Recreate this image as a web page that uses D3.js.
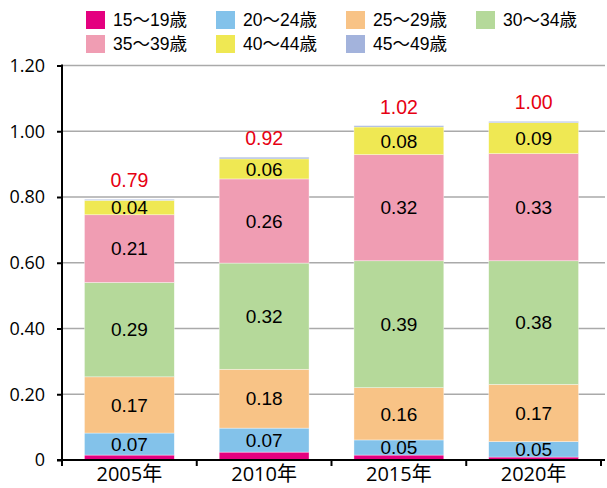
<!DOCTYPE html>
<html>
<head>
<meta charset="utf-8">
<script src="https://cdn.jsdelivr.net/npm/d3@7"></script>
<style>
  html, body { margin: 0; padding: 0; background: #fff; }
  svg { display: block; }
</style>
</head>
<body>
<svg id="chart" width="607" height="488"></svg>
<script>
// ---- data ----
const years = ["2005年", "2010年", "2015年", "2020年"];
const ageGroups = ["15～19歳", "20～24歳", "25～29歳", "30～34歳", "35～39歳", "40～44歳", "45～49歳"];
const age15_19 = [0.015, 0.024, 0.015, 0.009];
const age20_24 = [0.067, 0.073, 0.046, 0.047];
const age25_29 = [0.171, 0.179, 0.159, 0.174];
const age30_34 = [0.287, 0.323, 0.386, 0.376];
const age35_39 = [0.206, 0.256, 0.323, 0.326];
const age40_44 = [0.044, 0.061, 0.084, 0.094];
const age45_49 = [0.003, 0.005, 0.004, 0.004];
const totals = [0.79, 0.92, 1.02, 1.00];
const yTicks = [0, 0.2, 0.4, 0.6, 0.8, 1.0, 1.2];
const colors = ["#E4007F", "#83C2EA", "#F8C386", "#B5D99A", "#F09DB3", "#EFE853", "#A3B3DC"];
const labeled = [false, true, true, true, true, true, false];

const series = [age15_19, age20_24, age25_29, age30_34, age35_39, age40_44, age45_49];

// ---- layout ----
const svg = d3.select("#chart");
const mLeft = 62, mRight = 601, mTop = 65.5, mBottom = 460;
const latin = "'Liberation Sans', Arial, 'Noto Sans CJK JP', sans-serif";
const axisFont = "'Open Sans', 'Noto Sans CJK JP', sans-serif";

const x = d3.scaleBand().domain(years).range([mLeft, mRight]).paddingInner(1/3).paddingOuter(1/6);
const y = d3.scaleLinear().domain([0, 1.2]).range([mBottom, mTop]);

// gridlines
svg.append("g").selectAll("line").data(yTicks.filter(d => d > 0)).join("line")
  .attr("x1", mLeft).attr("x2", 605)
  .attr("y1", d => y(d)).attr("y2", d => y(d))
  .attr("stroke", "#aaa").attr("stroke-width", 1.5);

// stacked bars
const table = years.map((yr, i) => {
  const o = { year: yr };
  ageGroups.forEach((g, k) => o[g] = series[k][i]);
  return o;
});
const stack = d3.stack().keys(ageGroups)(table);

const gBars = svg.append("g");
stack.forEach((layer, k) => {
  gBars.append("g").selectAll("rect").data(layer).join("rect")
    .attr("x", d => x(d.data.year))
    .attr("width", x.bandwidth())
    .attr("y", d => y(d[1]))
    .attr("height", d => y(d[0]) - y(d[1]))
    .attr("fill", colors[k])
    .attr("stroke", "#fff").attr("stroke-opacity", 0.6).attr("stroke-width", 0.6);
});

// segment labels
const fmt = d3.format(".2f");
stack.forEach((layer, k) => {
  if (!labeled[k]) return;
  svg.append("g").selectAll("text").data(layer).join("text")
    .attr("x", d => x(d.data.year) + x.bandwidth() / 2)
    .attr("y", d => (y(d[0]) + y(d[1])) / 2 + 6.8)
    .attr("text-anchor", "middle")
    .attr("font-family", latin)
    .attr("font-size", 19)
    .attr("fill", "#000")
    .text(d => fmt(d[1] - d[0]));
});

// total labels
const topLayer = stack[stack.length - 1];
svg.append("g").selectAll("text").data(topLayer).join("text")
  .attr("x", d => x(d.data.year) + x.bandwidth() / 2)
  .attr("y", d => y(d[1]) - 12)
  .attr("text-anchor", "middle")
  .attr("font-family", latin)
  .attr("font-size", 19.5)
  .attr("fill", "#E60012")
  .text((d, i) => fmt(totals[i]));

// y axis
const yAxis = d3.axisLeft(y).tickValues(yTicks).tickSize(5).tickPadding(12)
  .tickFormat(d => d === 0 ? "0" : fmt(d));
const gy = svg.append("g").attr("transform", `translate(${mLeft},0)`).call(yAxis);
gy.select(".domain").remove();
gy.selectAll(".tick line").attr("stroke", "#000").attr("stroke-width", 2);
gy.selectAll(".tick text").attr("font-family", axisFont).attr("font-size", 18).attr("fill", "#000");
svg.append("line").attr("x1", mLeft).attr("x2", mLeft).attr("y1", mTop - 1).attr("y2", mBottom + 1)
  .attr("stroke", "#000").attr("stroke-width", 2);

// x axis
svg.append("line").attr("x1", mLeft - 5).attr("x2", 605).attr("y1", mBottom).attr("y2", mBottom)
  .attr("stroke", "#000").attr("stroke-width", 2);
const boundaries = years.map(d => x(d) - x.step() * x.paddingInner() / 2);
boundaries.push(mRight);
boundaries[0] = mLeft;
svg.append("g").selectAll("line").data(boundaries).join("line")
  .attr("x1", d => d).attr("x2", d => d)
  .attr("y1", mBottom).attr("y2", mBottom + 6)
  .attr("stroke", "#000").attr("stroke-width", 2);
svg.append("g").selectAll("text").data(years).join("text")
  .attr("x", d => x(d) + x.bandwidth() / 2)
  .attr("y", 481)
  .attr("text-anchor", "middle")
  .attr("font-family", axisFont)
  .attr("font-size", 20)
  .attr("fill", "#000")
  .text(d => d);

// legend
const legend = svg.append("g");
ageGroups.forEach((g, k) => {
  const col = k % 4, row = Math.floor(k / 4);
  const lx = 86 + col * 130, ly = 11 + row * 24;
  legend.append("rect").attr("x", lx).attr("y", ly).attr("width", 19).attr("height", 18).attr("fill", colors[k]);
  legend.append("text").attr("x", lx + 27).attr("y", ly + 15)
    .attr("font-family", latin).attr("font-size", 17.5).attr("fill", "#000").text(g);
});
</script>
</body>
</html>
